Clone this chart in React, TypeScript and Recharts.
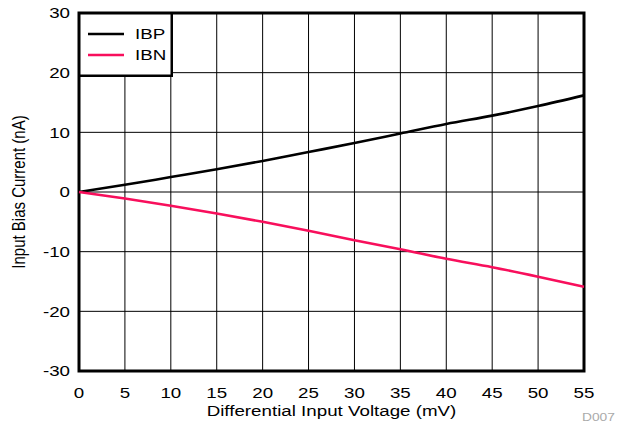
import React from 'react';
import {
  LineChart,
  Line,
  XAxis,
  YAxis,
  CartesianGrid,
  ReferenceArea,
  Legend,
  Label,
} from 'recharts';

const voltages = [0, 5, 10, 15, 20, 25, 30, 35, 40, 45, 50, 55];
const ibp = [0, 1.2, 2.5, 3.8, 5.2, 6.7, 8.2, 9.8, 11.4, 12.8, 14.4, 16.2];
const ibn = [0, -1.1, -2.3, -3.6, -5.0, -6.5, -8.1, -9.6, -11.2, -12.6, -14.2, -15.9];
const seriesNames = ['IBP', 'IBN'];
const xTicks = [0, 5, 10, 15, 20, 25, 30, 35, 40, 45, 50, 55];
const yTicks = [-30, -20, -10, 0, 10, 20, 30];
const xTitle = 'Differential Input Voltage (mV)';
const yTitle = 'Input Bias Current (nA)';
const figId = 'D007';

const data = voltages.map((v, i) => ({ mv: v, IBP: ibp[i], IBN: ibn[i] }));

const FONT = '"Liberation Sans", Arial, Helvetica, sans-serif';
const SX = 1.25;
const FS = 15;
const PINK = '#f80f5c';

const YTick = (props: any) => {
  const { x, y, payload } = props;
  return (
    <g transform={`translate(${x},${y}) scale(${SX},1)`}>
      <text textAnchor="end" dy="0.355em" fontSize={FS} fill="#000" fontFamily={FONT}>
        {payload.value}
      </text>
    </g>
  );
};

const XTick = (props: any) => {
  const { x, y, payload } = props;
  return (
    <g transform={`translate(${x},${y}) scale(${SX},1)`}>
      <text textAnchor="middle" dy="0.71em" fontSize={FS} fill="#000" fontFamily={FONT}>
        {payload.value}
      </text>
    </g>
  );
};

const XTitle = (props: any) => {
  const vb = props.viewBox;
  const cx = vb.x + vb.width / 2;
  const by = vb.y + vb.height - 9;
  return (
    <g transform={`translate(${cx},${by}) scale(${SX},1)`}>
      <text textAnchor="middle" fontSize={FS} fill="#000" fontFamily={FONT}>
        {xTitle}
      </text>
    </g>
  );
};

const YTitle = (props: any) => {
  const vb = props.viewBox;
  const cx = vb.x + 18;
  const cy = vb.y + vb.height / 2;
  return (
    <g transform={`translate(${cx},${cy}) scale(${SX},1) rotate(-90)`}>
      <text textAnchor="middle" dy="0.355em" fontSize={FS} fill="#000" fontFamily={FONT}>
        {yTitle}
      </text>
    </g>
  );
};

const LegendBox = (props: any) => {
  const payload = [...(props.payload || [])].sort(
    (a: any, b: any) => seriesNames.indexOf(a.value) - seriesNames.indexOf(b.value)
  );
  return (
    <svg width={96} height={66} style={{ display: 'block' }}>
      <rect x={1.25} y={1.25} width={92.5} height={62.5} fill="#fff" stroke="#000" strokeWidth={2.5} />
      {payload.map((p: any, i: number) => {
        const cy = 22 + i * 21;
        return (
          <g key={p.value}>
            <line x1={10} x2={46} y1={cy} y2={cy} stroke={p.color} strokeWidth={2.5} />
            <g transform={`translate(57,${cy}) scale(${SX},1)`}>
              <text dy="0.355em" fontSize={FS} fill="#000" fontFamily={FONT}>
                {p.value}
              </text>
            </g>
          </g>
        );
      })}
    </svg>
  );
};

export default function App() {
  return (
    <div
      style={{
        position: 'absolute',
        left: 0,
        top: 0,
        width: 621,
        height: 425,
        overflow: 'hidden',
        background: '#fff',
      }}
    >
      <LineChart
        width={621}
        height={425}
        data={data}
        margin={{ top: 13, right: 37, left: 0, bottom: 0 }}
      >
        <CartesianGrid stroke="#000" strokeWidth={1} />
        <XAxis
          dataKey="mv"
          type="number"
          domain={[0, 55]}
          ticks={xTicks}
          interval={0}
          height={54}
          axisLine={false}
          tickLine={false}
          tickSize={0}
          tickMargin={16}
          tick={<XTick />}
        >
          <Label content={<XTitle />} />
        </XAxis>
        <YAxis
          type="number"
          domain={[-30, 30]}
          ticks={yTicks}
          interval={0}
          width={79}
          axisLine={false}
          tickLine={false}
          tickSize={0}
          tickMargin={9}
          tick={<YTick />}
        >
          <Label content={<YTitle />} />
        </YAxis>
        <Line
          type="monotone"
          dataKey="IBP"
          name="IBP"
          stroke="#000"
          strokeWidth={2.6}
          dot={false}
          isAnimationActive={false}
        />
        <Line
          type="monotone"
          dataKey="IBN"
          name="IBN"
          stroke={PINK}
          strokeWidth={2.6}
          dot={false}
          isAnimationActive={false}
        />
        <ReferenceArea
          x1={0}
          x2={55}
          y1={-30}
          y2={30}
          fill="none"
          fillOpacity={0}
          stroke="#000"
          strokeWidth={3}
          ifOverflow="visible"
        />
        <Legend
          layout="vertical"
          align="center"
          verticalAlign="middle"
          content={<LegendBox />}
          wrapperStyle={{ left: 77.5, top: 12, width: 96, height: 66 }}
        />
      </LineChart>
      <div
        style={{
          position: 'absolute',
          left: 582,
          top: 411,
          fontFamily: FONT,
          fontSize: 11,
          color: '#aaa',
          transform: `scaleX(${SX})`,
          transformOrigin: 'left top',
          whiteSpace: 'nowrap',
          lineHeight: '13px',
        }}
      >
        {figId}
      </div>
    </div>
  );
}
